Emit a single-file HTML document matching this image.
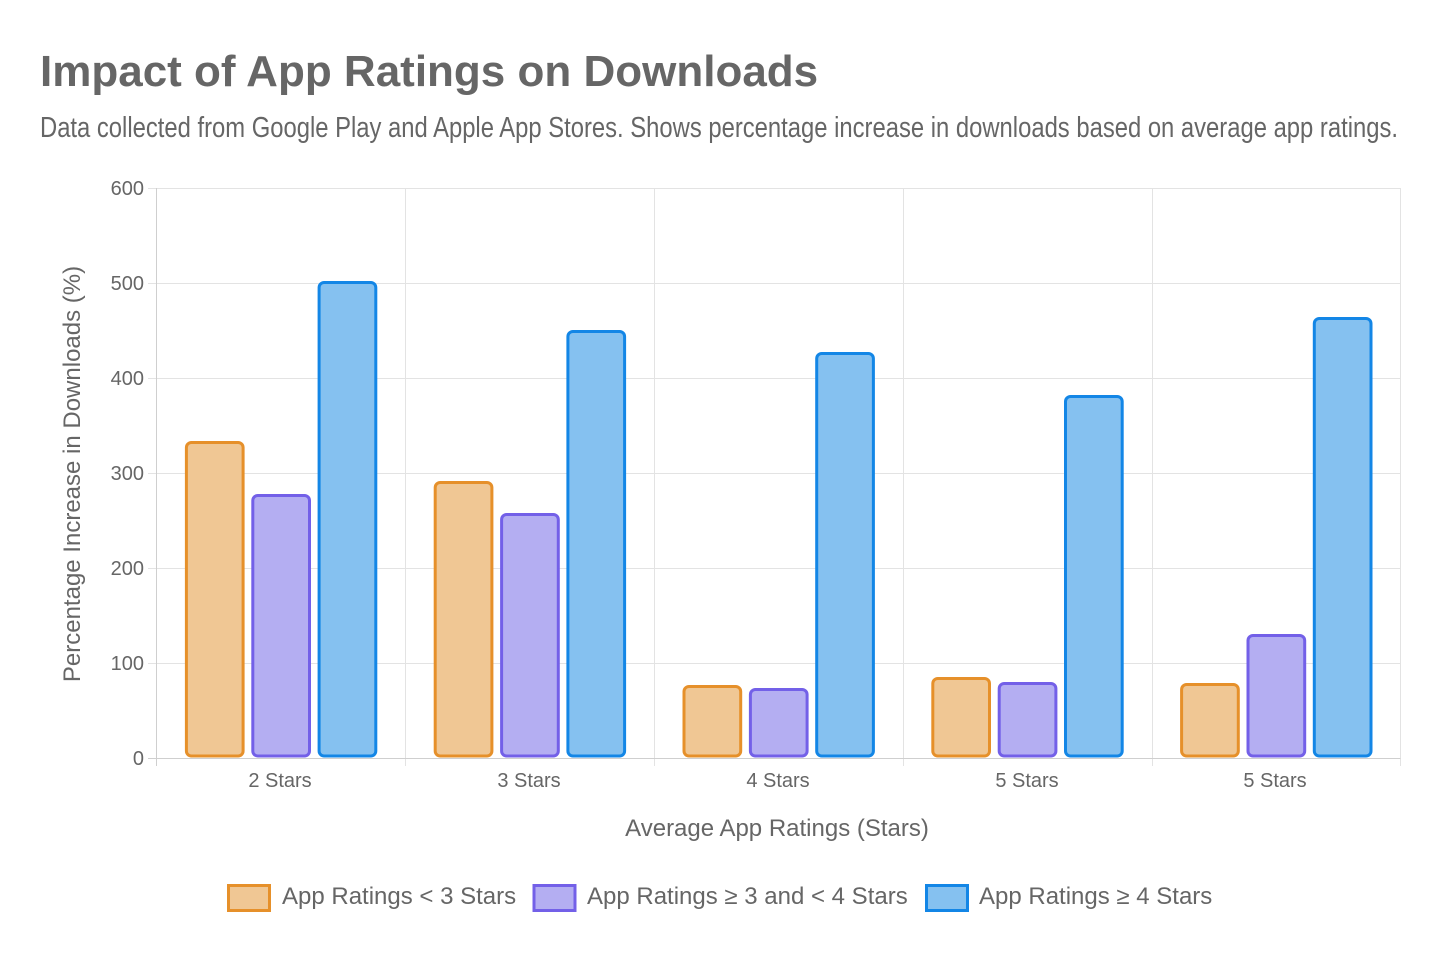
<!DOCTYPE html>
<html>
<head>
<meta charset="utf-8">
<style>
html,body{margin:0;padding:0;background:#fff;}
svg{display:block;}
text{font-family:"Liberation Sans",Arial,sans-serif;fill:#666;}
</style>
</head>
<body>
<svg width="1440" height="960" viewBox="0 0 1440 960" xmlns="http://www.w3.org/2000/svg">
<rect width="1440" height="960" fill="#fff"/>
<text x="40" y="86" font-size="44" font-weight="bold">Impact of App Ratings on Downloads</text>
<text x="40" y="137" font-size="29" textLength="1358" lengthAdjust="spacingAndGlyphs">Data collected from Google Play and Apple App Stores. Shows percentage increase in downloads based on average app ratings.</text>

<!-- grid -->
<g stroke="#e3e3e3" stroke-width="1">
<line x1="148" y1="188.5" x2="1400.5" y2="188.5"/>
<line x1="148" y1="283.5" x2="1400.5" y2="283.5"/>
<line x1="148" y1="378.5" x2="1400.5" y2="378.5"/>
<line x1="148" y1="473.5" x2="1400.5" y2="473.5"/>
<line x1="148" y1="568.5" x2="1400.5" y2="568.5"/>
<line x1="148" y1="663.5" x2="1400.5" y2="663.5"/>
<line x1="405.5" y1="188" x2="405.5" y2="766"/>
<line x1="654.5" y1="188" x2="654.5" y2="766"/>
<line x1="903.5" y1="188" x2="903.5" y2="766"/>
<line x1="1152.5" y1="188" x2="1152.5" y2="766"/>
<line x1="1400.5" y1="188" x2="1400.5" y2="766"/>
</g>
<g stroke="#cfcfcf" stroke-width="1">
<line x1="148" y1="758.5" x2="1400.5" y2="758.5"/>
<line x1="156.5" y1="188" x2="156.5" y2="766"/>
</g>

<!-- y ticks -->
<g font-size="20" text-anchor="end">
<text x="144" y="195">600</text>
<text x="144" y="290">500</text>
<text x="144" y="385">400</text>
<text x="144" y="480">300</text>
<text x="144" y="575">200</text>
<text x="144" y="670">100</text>
<text x="144" y="765">0</text>
</g>
<!-- x ticks -->
<g font-size="20" text-anchor="middle">
<text x="280" y="787">2 Stars</text>
<text x="529" y="787">3 Stars</text>
<text x="778" y="787">4 Stars</text>
<text x="1027" y="787">5 Stars</text>
<text x="1275" y="787">5 Stars</text>
</g>

<text x="777" y="836" font-size="24" text-anchor="middle">Average App Ratings (Stars)</text>
<text transform="translate(80,474) rotate(-90)" font-size="24" text-anchor="middle">Percentage Increase in Downloads (%)</text>

<!-- bars -->
<g stroke-width="3">
<!-- orange -->
<g fill="#f0c794" stroke="#e6902a">
<rect x="186.4" y="442.5" width="56.7" height="313.5" rx="5"/>
<rect x="435.2" y="482.5" width="56.7" height="273.5" rx="5"/>
<rect x="684.0" y="686.5" width="56.7" height="69.5" rx="5"/>
<rect x="932.8" y="678.5" width="56.7" height="77.5" rx="5"/>
<rect x="1181.6" y="684.5" width="56.7" height="71.5" rx="5"/>
</g>
<!-- purple -->
<g fill="#b4aef2" stroke="#7360e8">
<rect x="252.8" y="495.5" width="56.7" height="260.5" rx="5"/>
<rect x="501.6" y="514.5" width="56.7" height="241.5" rx="5"/>
<rect x="750.4" y="689.5" width="56.7" height="66.5" rx="5"/>
<rect x="999.2" y="683.5" width="56.7" height="72.5" rx="5"/>
<rect x="1248.0" y="635.5" width="56.7" height="120.5" rx="5"/>
</g>
<!-- blue -->
<g fill="#85c1f0" stroke="#1386e6">
<rect x="319.1" y="282.5" width="56.7" height="473.5" rx="5"/>
<rect x="567.9" y="331.5" width="56.7" height="424.5" rx="5"/>
<rect x="816.7" y="353.5" width="56.7" height="402.5" rx="5"/>
<rect x="1065.5" y="396.5" width="56.7" height="359.5" rx="5"/>
<rect x="1314.3" y="318.5" width="56.7" height="437.5" rx="5"/>
</g>
</g>

<!-- legend -->
<g stroke-width="3">
<rect x="228.5" y="885.5" width="41" height="25" fill="#f0c794" stroke="#e6902a"/>
<rect x="534" y="885.5" width="41" height="25" fill="#b4aef2" stroke="#7360e8"/>
<rect x="926.5" y="885.5" width="41" height="25" fill="#85c1f0" stroke="#1386e6"/>
</g>
<g font-size="24">
<text x="282" y="904">App Ratings &lt; 3 Stars</text>
<text x="587" y="904">App Ratings ≥ 3 and &lt; 4 Stars</text>
<text x="979" y="904">App Ratings ≥ 4 Stars</text>
</g>
</svg>
</body>
</html>
